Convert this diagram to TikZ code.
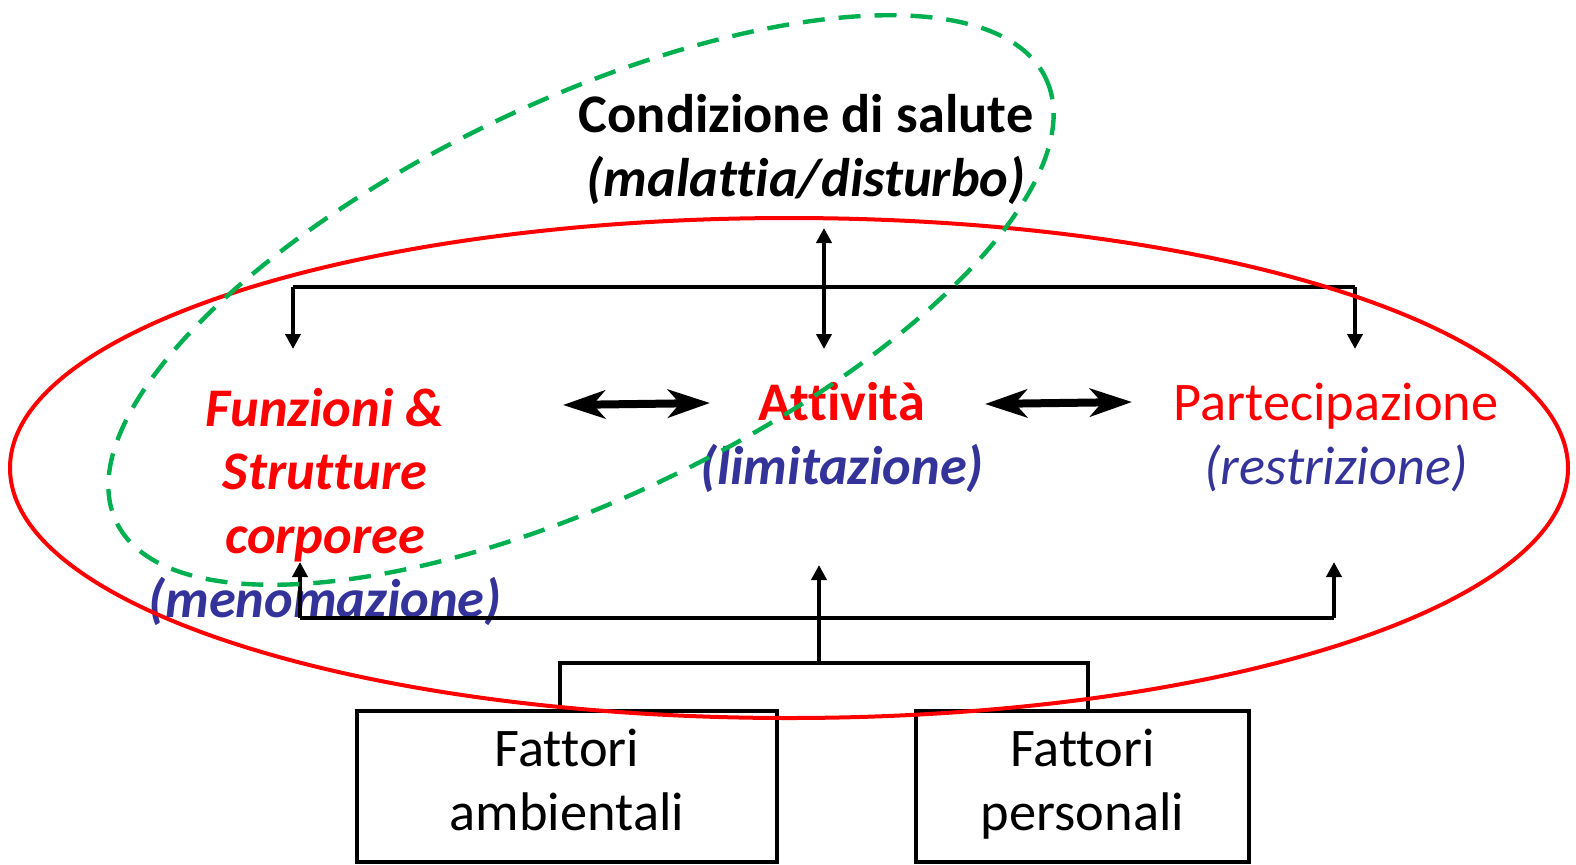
\documentclass[tikz,border=0pt]{standalone}
\usepackage{fontspec}
\setmainfont{Carlito}[Ligatures=NoCommon]
\usetikzlibrary{arrows.meta}
\definecolor{icfred}{RGB}{255,0,0}
\definecolor{icfblue}{RGB}{51,51,153}
\definecolor{icfgreen}{RGB}{0,176,80}
\tikzset{
  lbl/.style={align=center,anchor=base,inner sep=0pt,font=\fontsize{27.2}{31.8}\selectfont#1},
  lbl/.default={},
  factor/.style={draw,line width=2pt,minimum height=75.5pt,inner sep=0pt,
    align=center,font=\fontsize{27.2}{31.8}\selectfont},
  link/.style={line width=2pt,-{Triangle[length=7.5pt,width=7.5pt]}},
  twoway/.style={line width=2pt,{Triangle[length=7.5pt,width=7.5pt]}-{Triangle[length=7.5pt,width=7.5pt]}},
  wire/.style={line width=2pt},
  both/.style={line width=4pt,{Stealth[length=21pt,width=14pt,inset=6pt]}-{Stealth[length=21pt,width=14pt,inset=6pt]}}
}
\begin{document}
\begin{tikzpicture}[x=0.5pt,y=-0.5pt]
  \useasboundingbox (0,0) rectangle (1576,864);
  % Health condition
  \node[lbl=\bfseries] (cond) at (806,196) {Condizione di salute\\\itshape (malattia/disturbo)};
  % Components
  \node[lbl=\bfseries\itshape,text=icfred] (funz) at (325,617)
    {Funzioni \&\\Strutture\\corporee\\{\color{icfblue}(menomazione)}};
  \node[lbl=\bfseries,text=icfred] (att) at (842,484) {Attività\\{\color{icfblue}\itshape(limitazione)}};
  \node[lbl,text=icfred] (part) at (1336,484) {Partecipazione\\{\color{icfblue}\itshape(restrizione)}};
  % Contextual factors
  \node[factor,minimum width=210pt] (amb) at (567,786) {Fattori\strut\\ambientali\strut};
  \node[factor,minimum width=166.5pt] (pers) at (1082.5,786) {Fattori\strut\\personali\strut};
  % Upper links
  \coordinate (tl) at (293,287);
  \coordinate (tr) at (1355,287);
  \coordinate (condout) at (824,228);
  \coordinate (attin) at (824,349);
  \coordinate (funzin) at (293,349);
  \coordinate (partin) at (1355,349);
  \draw[wire] (tl) -- (tr);
  \draw[link] (tl) -- (funzin);
  \draw[link] (tr) -- (partin);
  \draw[twoway] (condout) -- (attin);
  % Interactions
  \coordinate (a1) at (563,405);
  \coordinate (a2) at (710,403);
  \coordinate (b1) at (985,404);
  \coordinate (b2) at (1132,402);
  \draw[both] (a1) -- (a2);
  \draw[both] (b1) -- (b2);
  % Lower links
  \coordinate (bl) at (300,618);
  \coordinate (br) at (1334,618);
  \coordinate (fhub) at (819,663);
  \coordinate (fl) at (560,663);
  \coordinate (fr) at (1088,663);
  \coordinate (funzout) at (300,562);
  \coordinate (attout) at (819,565);
  \coordinate (partout) at (1334,562);
  \draw[wire] (bl) -- (br);
  \draw[link] (bl) -- (funzout);
  \draw[link] (br) -- (partout);
  \draw[link] (fhub) -- (attout);
  \draw[wire] (fl |- amb.north) -- (fl) -- (fr) -- (fr |- pers.north);
  % Ellipses
  \draw[icfred,line width=2pt] (789,468) ellipse [x radius=779, y radius=250];
  \draw[icfgreen,line width=2.2pt,dash pattern=on 11pt off 7pt,shift={(581,300)},rotate=25.5]
    (0,0) ellipse [x radius=515, y radius=198];
\end{tikzpicture}
\end{document}
